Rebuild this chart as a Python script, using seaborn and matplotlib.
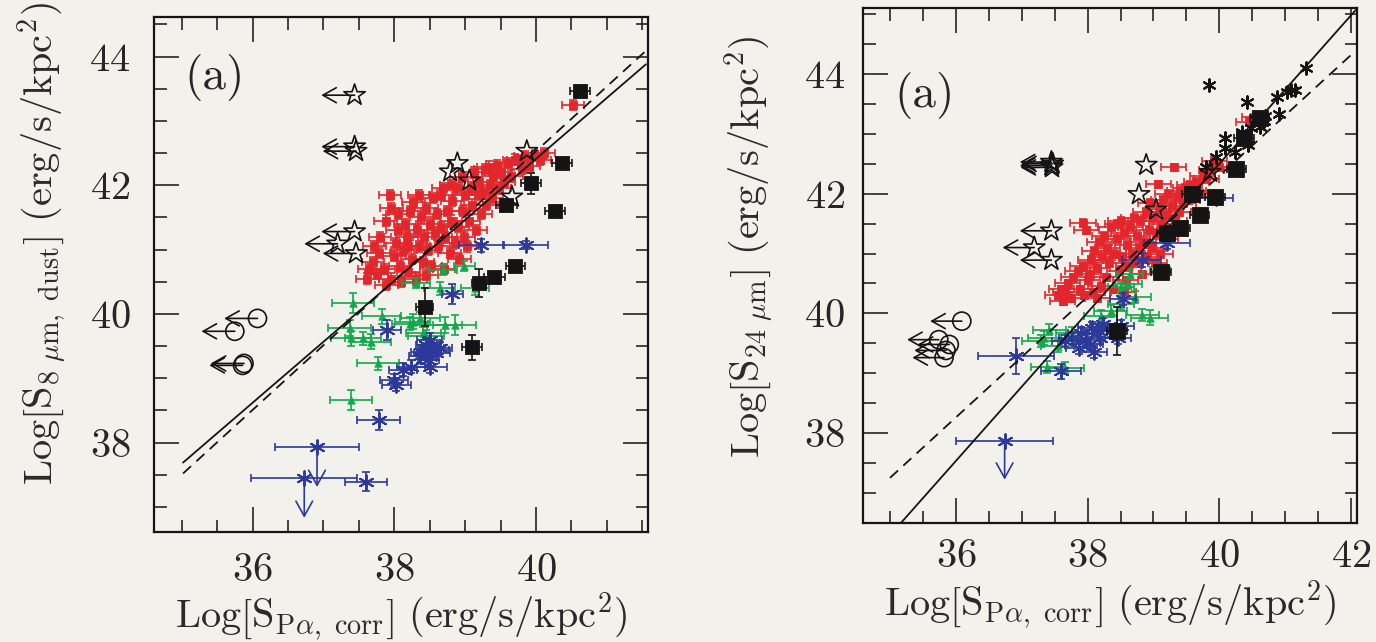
import numpy as np
import pandas as pd
import matplotlib
matplotlib.use("Agg")
import matplotlib.pyplot as plt
from matplotlib.ticker import MultipleLocator
import seaborn as sns

# ---------------- data: left panel (8 micron dust) ----------------
red8_x = [37.62, 37.70, 37.75, 37.78, 37.72, 37.85, 37.80, 37.88, 37.94, 37.96, 37.89, 37.65,
          37.95, 38.00, 38.02, 38.05, 38.08, 38.10, 38.12, 38.15, 38.18, 38.20, 38.05, 38.22, 38.25, 38.27, 38.20,
          38.30, 38.32, 38.35, 38.38, 38.40, 38.42, 38.45, 38.48, 38.50, 38.52, 38.55, 38.58, 38.60, 38.35, 38.45,
          38.62, 38.65, 38.69, 38.66,
          38.70, 38.72, 38.75, 38.78, 38.80, 38.82, 38.85, 38.88, 38.90, 38.92, 38.95, 38.97, 39.00, 38.98, 38.80,
          39.03, 39.05, 39.08, 39.10, 39.12, 39.15, 39.18, 39.20, 39.22, 39.25, 39.28, 39.30, 39.33, 39.35, 39.38,
          39.40, 39.45, 39.48, 39.50, 39.55, 39.60, 39.65, 39.70, 39.75, 39.80, 39.85, 39.90, 39.98, 40.05, 40.11,
          40.52]
red8_y = [40.55, 40.80, 40.62, 40.95, 41.05, 40.70, 41.20, 41.45, 41.85, 41.65, 40.45, 40.70,
          40.55, 40.90, 41.10, 41.30, 40.75, 40.50, 41.00, 41.40, 41.20, 40.65, 41.55, 41.60, 40.85, 41.74, 41.05,
          40.55, 41.30, 41.05, 41.50, 40.80, 41.20, 41.65, 41.00, 41.40, 40.75, 41.80, 41.25, 41.55, 41.85, 40.60,
          41.05, 41.85, 41.95, 41.35,
          40.70, 41.20, 41.60, 40.95, 41.45, 41.75, 41.10, 41.95, 41.35, 40.85, 42.13, 41.60, 41.85, 41.20, 42.00,
          41.05, 41.45, 41.95, 41.70, 42.20, 41.30, 41.85, 42.05, 41.55, 41.90, 42.25, 41.70, 42.29, 42.00, 41.80,
          42.15, 42.32, 41.95, 42.20, 42.05, 42.35, 42.15, 42.40, 42.39, 42.25, 42.45, 42.30, 42.45, 42.40, 42.50,
          43.25]
red8_xerr = 0.16
red8_yerr = 0.08

green8_x = [37.42, 37.82, 37.37, 37.39, 37.56, 37.67, 37.77, 37.39, 38.26, 38.36, 38.64, 38.99, 38.69, 39.14,
            38.71, 38.85, 38.41, 38.22, 38.45, 38.31]
green8_y = [40.17, 39.96, 39.78, 39.62, 39.62, 39.57, 39.23, 38.66, 39.88, 39.93, 40.40, 40.74, 40.68, 40.40,
            39.83, 39.83, 39.70, 39.85, 39.65, 40.48]
green8_xerr = [0.30, 0.28, 0.30, 0.28, 0.25, 0.28, 0.30, 0.30, 0.25, 0.28, 0.22, 0.15, 0.20, 0.20,
               0.25, 0.30, 0.25, 0.25, 0.25, 0.20]
green8_yerr = [0.15, 0.12, 0.12, 0.12, 0.10, 0.12, 0.10, 0.15, 0.12, 0.10, 0.10, 0.08, 0.08, 0.10,
               0.12, 0.15, 0.10, 0.10, 0.10, 0.08]

blue8_x = [39.22, 39.86, 38.82, 37.90, 38.45, 38.52, 38.38, 38.57, 38.43, 38.50, 38.36, 38.59, 38.48, 38.64,
           38.24, 38.50, 38.12, 38.00, 38.03, 37.78, 36.91, 36.73, 37.60]
blue8_y = [41.07, 41.07, 40.31, 39.75, 39.52, 39.47, 39.41, 39.44, 39.39, 39.60, 39.34, 39.39, 39.28, 39.47,
           39.18, 39.18, 39.13, 38.97, 38.90, 38.35, 37.93, 37.45, 37.39]
blue8_xerr = [0.31, 0.31, 0.15, 0.20, 0.15, 0.18, 0.15, 0.20, 0.15, 0.18, 0.15, 0.20, 0.15, 0.18,
              0.20, 0.25, 0.20, 0.20, 0.20, 0.30, 0.59, 0.75, 0.30]
blue8_yerr = [0.10, 0.06, 0.15, 0.15, 0.10, 0.10, 0.10, 0.10, 0.10, 0.10, 0.10, 0.10, 0.10, 0.10,
              0.10, 0.10, 0.10, 0.10, 0.10, 0.15, 0.00, 0.00, 0.15]
blue8_uplim = [False] * 20 + [True, True, False]

bsq8_x = [40.62, 40.37, 39.93, 39.58, 40.27, 39.71, 39.41, 39.19, 38.43, 39.10]
bsq8_y = [43.46, 42.35, 42.03, 41.69, 41.60, 40.74, 40.57, 40.48, 40.11, 39.48]
bsq8_xerr = [0.14, 0.14, 0.14, 0.15, 0.14, 0.14, 0.15, 0.10, 0.12, 0.14]
bsq8_yerr = [0.05, 0.05, 0.16, 0.06, 0.05, 0.06, 0.06, 0.22, 0.30, 0.20]

star8_lim_x = [37.44, 37.44, 37.46, 37.44, 37.20, 37.46]
star8_lim_y = [43.40, 42.60, 42.53, 41.28, 41.09, 40.94]
star8_x = [39.87, 38.89, 38.79, 39.06, 39.66]
star8_y = [42.53, 42.34, 42.21, 42.07, 41.82]
circ8_lim_x = [36.07, 35.75, 35.88, 35.86]
circ8_lim_y = [39.93, 39.73, 39.23, 39.20]

fit8_solid = (0.948, 4.49)
fit8_dashed = (1.006, 2.29)

# ---------------- data: right panel (24 micron) ----------------
red24_x = [37.55, 37.62, 37.66, 37.70, 37.75, 37.78, 37.60,
           37.85, 37.88, 37.93, 37.95, 37.93, 37.98, 38.00, 38.05, 38.08, 38.10, 38.02,
           38.15, 38.18, 38.20, 38.22, 38.25, 38.28, 38.30, 38.33, 38.35, 38.38, 38.40, 38.15,
           38.45, 38.48, 38.50, 38.52, 38.55, 38.58, 38.60, 38.62, 38.65, 38.68, 38.70, 38.55, 38.45,
           38.73, 38.75, 38.78, 38.80, 38.83, 38.85, 38.88, 38.90, 38.93, 38.95, 38.98, 39.00,
           39.02, 39.05, 39.07, 39.08, 39.10, 39.12, 39.15, 39.18, 39.20, 39.22, 39.25, 39.28, 39.31,
           39.32, 39.35, 39.38, 39.40, 39.45, 39.48, 39.52, 39.55, 39.60, 39.65, 39.70, 39.75, 39.80,
           39.88, 39.92, 40.00, 40.53, 40.45]
red24_y = [40.30, 40.20, 40.35, 40.50, 40.25, 40.60, 40.40,
           40.70, 40.40, 40.80, 40.30, 41.51, 41.39, 40.55, 40.90, 40.35, 41.05, 40.65,
           40.75, 41.20, 40.45, 40.95, 41.30, 40.60, 41.10, 40.85, 41.45, 40.40, 41.00, 40.25,
           41.25, 40.70, 41.55, 40.95, 41.35, 40.55, 41.15, 40.80, 41.45, 41.00, 41.60, 40.35, 41.50,
           40.85, 41.30, 41.10, 41.55, 40.65, 41.20, 41.70, 40.95, 41.40, 41.85, 41.10, 41.60,
           40.85, 41.35, 42.16, 41.75, 41.00, 41.50, 41.90, 41.25, 41.65, 42.00, 41.40, 41.80, 42.44,
           41.55, 41.95, 41.70, 42.05, 41.85, 42.10, 41.90, 42.15, 42.05, 42.20, 42.00, 42.30, 42.25,
           42.40, 42.55, 42.45, 43.28, 43.20]
red24_xerr = 0.19
red24_yerr = 0.06

green24_x = [37.42, 37.34, 37.29, 37.39, 37.66, 38.62, 38.51, 38.72, 38.94, 38.83, 39.10, 38.64, 37.77,
             38.35, 38.51, 37.55, 38.20]
green24_y = [39.73, 39.59, 39.53, 39.11, 39.08, 40.49, 40.44, 40.27, 39.93, 39.98, 40.73, 40.66, 39.67,
             40.04, 40.15, 39.45, 39.95]
green24_xerr = [0.25, 0.25, 0.28, 0.25, 0.28, 0.20, 0.20, 0.25, 0.28, 0.25, 0.15, 0.20, 0.25,
                0.25, 0.20, 0.25, 0.25]
green24_yerr = [0.10, 0.12, 0.10, 0.10, 0.10, 0.08, 0.08, 0.10, 0.12, 0.10, 0.08, 0.08, 0.10,
                0.10, 0.10, 0.10, 0.10]

blue24_x = [36.74, 36.91, 37.60, 38.82, 39.20, 39.95, 38.54, 37.77, 38.03, 37.90, 38.14, 38.24, 38.35,
            38.51, 37.98, 37.66, 37.87, 38.19, 38.46, 38.06, 38.09]
blue24_y = [37.87, 39.28, 39.03, 40.89, 41.17, 41.93, 40.24, 39.59, 39.48, 39.67, 39.73, 39.82, 39.70,
            39.79, 39.56, 39.53, 39.42, 39.59, 39.59, 39.76, 39.36]
blue24_xerr = [0.74, 0.58, 0.30, 0.30, 0.35, 0.25, 0.20, 0.20, 0.20, 0.20, 0.20, 0.20, 0.20,
               0.20, 0.20, 0.20, 0.20, 0.20, 0.20, 0.20, 0.20]
blue24_yerr = [0.00, 0.30, 0.12, 0.12, 0.10, 0.05, 0.10, 0.10, 0.10, 0.10, 0.10, 0.10, 0.10,
               0.10, 0.10, 0.10, 0.10, 0.10, 0.10, 0.10, 0.10]
blue24_uplim = [True] + [False] * 20

bsq24_x = [40.61, 40.37, 40.26, 39.59, 39.93, 39.70, 39.40, 39.20, 39.11, 38.45]
bsq24_y = [43.26, 42.93, 42.41, 41.99, 41.94, 41.65, 41.42, 41.34, 40.69, 39.71]
bsq24_xerr = [0.15, 0.15, 0.15, 0.15, 0.15, 0.15, 0.15, 0.15, 0.15, 0.15]
bsq24_yerr = [0.07, 0.10, 0.07, 0.07, 0.07, 0.07, 0.07, 0.07, 0.07, 0.40]

ast24_x = [41.31, 39.84, 41.09, 41.15, 41.03, 40.88, 40.42, 40.90, 40.55, 40.68, 40.62, 40.48, 40.34,
           40.09, 40.09, 40.24, 40.43, 39.95, 39.80, 40.70]
ast24_y = [44.10, 43.82, 43.73, 43.73, 43.70, 43.62, 43.54, 43.34, 43.25, 43.22, 43.12, 43.10, 43.04,
           42.93, 42.76, 42.69, 42.82, 42.61, 42.45, 43.30]

star24_lim_x = [37.45, 37.47, 37.45, 37.46, 37.45, 37.19, 37.45]
star24_lim_y = [42.53, 42.50, 42.47, 42.44, 41.38, 41.10, 40.89]
star24_x = [38.89, 38.78, 39.04, 39.86]
star24_y = [42.48, 41.99, 41.73, 42.36]
circ24_lim_x = [36.09, 35.74, 35.90, 35.85, 35.82]
circ24_lim_y = [39.87, 39.56, 39.48, 39.38, 39.26]

fit24_solid = (1.242, -7.18)
fit24_dashed = (1.010, 1.90)

# ---------------- style ----------------
RED = "#e3262c"
GREEN = "#14a84c"
BLUE = "#2c399b"
BLACK = "#141414"
BG = "#f3f1ec"
AST = (6, 2, 0)

sns.set_theme(style="ticks")
plt.rcParams["font.family"] = ["cmr10", "DejaVu Serif"]
plt.rcParams["mathtext.fontset"] = "cm"
plt.rcParams["axes.formatter.use_mathtext"] = True
plt.rcParams["axes.unicode_minus"] = False

fig = plt.figure(figsize=(13.76, 6.42), dpi=100)
fig.patch.set_facecolor(BG)
axL = fig.add_axes([154 / 1376, 110 / 642, 494 / 1376, 515.3 / 642])
axR = fig.add_axes([863 / 1376, 119.3 / 642, 494 / 1376, 514.4 / 642])


def group(ax, x, y, xerr, yerr, color, marker, s, z, lw=1.2, cap=3.0, mew=1.2):
    ax.errorbar(x, y, xerr=xerr, yerr=yerr, fmt="none", ecolor=color, elinewidth=lw,
                capsize=cap, capthick=lw, zorder=z)
    df = pd.DataFrame({"x": x, "y": y})
    sns.scatterplot(data=df, x="x", y="y", marker=marker, s=s, color=color, edgecolor=color,
                    linewidth=mew, ax=ax, zorder=z + 0.1, legend=False)


def left_arrows(ax, x, y, length):
    for xi, yi in zip(x, y):
        ax.annotate("", xy=(xi - length, yi), xytext=(xi, yi),
                    arrowprops=dict(arrowstyle="->,head_length=0.8,head_width=0.45",
                                    color=BLACK, lw=1.2, shrinkA=0, shrinkB=0), zorder=6)


def down_arrows(ax, x, y, flags, length, color):
    for xi, yi, f in zip(x, y, flags):
        if f:
            ax.annotate("", xy=(xi, yi - length), xytext=(xi, yi),
                        arrowprops=dict(arrowstyle="->,head_length=0.9,head_width=0.5",
                                        color=color, lw=1.2, shrinkA=0, shrinkB=0), zorder=6)


def open_marks(ax, x, y, marker, s, z=7):
    df = pd.DataFrame({"x": x, "y": y})
    sns.scatterplot(data=df, x="x", y="y", marker=marker, s=s, color=BLACK, facecolor="none",
                    edgecolor=BLACK, linewidth=1.2, ax=ax, zorder=z, legend=False)


def fit_lines(ax, solid, dashed, xlo, xhi):
    xs = np.array([xlo, xhi])
    ax.plot(xs, solid[0] * xs + solid[1], color=BLACK, lw=1.3, zorder=10)
    ax.plot(xs, dashed[0] * xs + dashed[1], color=BLACK, lw=1.3, ls=(0, (6, 4)), zorder=10)


# ---- left panel ----
ax = axL
group(ax, red8_x, red8_y, red8_xerr, red8_yerr, RED, "s", 40, 2, mew=0.6)
group(ax, green8_x, green8_y, green8_xerr, green8_yerr, GREEN, "^", 28, 3, mew=0.6)
group(ax, blue8_x, blue8_y, blue8_xerr, blue8_yerr, BLUE, AST, 110, 4, mew=1.4)
down_arrows(ax, blue8_x, blue8_y, blue8_uplim, 0.62, BLUE)
group(ax, bsq8_x, bsq8_y, bsq8_xerr, bsq8_yerr, BLACK, "s", 110, 5, mew=0.6)
open_marks(ax, star8_lim_x, star8_lim_y, "*", 260)
left_arrows(ax, star8_lim_x, star8_lim_y, 0.47)
open_marks(ax, star8_x, star8_y, "*", 260)
open_marks(ax, circ8_lim_x, circ8_lim_y, "o", 170)
left_arrows(ax, circ8_lim_x, circ8_lim_y, 0.47)
fit_lines(ax, fit8_solid, fit8_dashed, 35.02, 41.55)
ax.set_xlim(34.61, 41.58)
ax.set_ylim(36.61, 44.62)
ax.text(35.47, 43.67, "(a)", fontsize=34, ha="center", va="center")
ax.set_xticks([36, 38, 40])
ax.set_yticks([38, 40, 42, 44])
ax.set_xlabel(r"$\mathrm{Log}\left[\mathrm{S}_{\mathrm{P}\alpha,\ \mathrm{corr}}\right]\ \mathrm{(erg/s/kpc^2)}$",
              fontsize=29)
ax.set_ylabel(r"$\mathrm{Log}\left[\mathrm{S}_{8\ \mu\mathrm{m},\ \mathrm{dust}}\right]\ \mathrm{(erg/s/kpc^2)}$",
              fontsize=29)
ax.xaxis.set_label_coords(0.50, -0.165)
ax.yaxis.set_label_coords(-0.225, 0.56)
ax.xaxis.label.set_va("center")
ax.yaxis.label.set_va("center")

# ---- right panel ----
ax = axR
group(ax, red24_x, red24_y, red24_xerr, red24_yerr, RED, "s", 40, 2, mew=0.6)
group(ax, green24_x, green24_y, green24_xerr, green24_yerr, GREEN, "^", 28, 3, mew=0.6)
group(ax, blue24_x, blue24_y, blue24_xerr, blue24_yerr, BLUE, AST, 110, 4, mew=1.4)
down_arrows(ax, blue24_x, blue24_y, blue24_uplim, 0.65, BLUE)
group(ax, bsq24_x, bsq24_y, bsq24_xerr, bsq24_yerr, BLACK, "s", 130, 5, mew=0.6)
sns.scatterplot(x=ast24_x, y=ast24_y, marker=AST, s=80, color=BLACK, edgecolor=BLACK,
                linewidth=1.5, ax=ax, zorder=6, legend=False)
open_marks(ax, star24_lim_x, star24_lim_y, "*", 260)
left_arrows(ax, star24_lim_x, star24_lim_y, 0.48)
open_marks(ax, star24_x, star24_y, "*", 260)
open_marks(ax, circ24_lim_x, circ24_lim_y, "o", 170)
left_arrows(ax, circ24_lim_x, circ24_lim_y, 0.48)
fit_lines(ax, fit24_solid, fit24_dashed, 35.0, 42.07)
ax.set_xlim(34.59, 42.09)
ax.set_ylim(36.5, 45.1)
ax.text(35.52, 43.65, "(a)", fontsize=34, ha="center", va="center")
ax.set_xticks([36, 38, 40, 42])
ax.set_yticks([38, 40, 42, 44])
ax.set_xlabel(r"$\mathrm{Log}\left[\mathrm{S}_{\mathrm{P}\alpha,\ \mathrm{corr}}\right]\ \mathrm{(erg/s/kpc^2)}$",
              fontsize=29)
ax.set_ylabel(r"$\mathrm{Log}\left[\mathrm{S}_{24\ \mu\mathrm{m}}\right]\ \mathrm{(erg/s/kpc^2)}$",
              fontsize=29)
ax.xaxis.set_label_coords(0.50, -0.16)
ax.yaxis.set_label_coords(-0.229, 0.536)
ax.xaxis.label.set_va("center")
ax.yaxis.label.set_va("center")

for ax, px, py in [(axL, 15, 17), (axR, 12, 13)]:
    ax.set_facecolor(BG)
    ax.xaxis.set_minor_locator(MultipleLocator(0.5))
    ax.yaxis.set_minor_locator(MultipleLocator(0.5))
    ax.tick_params(which="both", direction="in", top=True, right=True, color=BLACK)
    ax.tick_params(which="major", length=18, width=1.1, labelsize=29)
    ax.tick_params(which="minor", length=9, width=1.1)
    ax.tick_params(axis="x", which="major", pad=px)
    ax.tick_params(axis="y", which="major", pad=py)
    for sp in ax.spines.values():
        sp.set_linewidth(1.6)
        sp.set_color(BLACK)
    ax.xaxis.label.set_color("#2a2a2a")
    ax.yaxis.label.set_color("#2a2a2a")

fig.savefig("out.png", dpi=100, facecolor=BG)
